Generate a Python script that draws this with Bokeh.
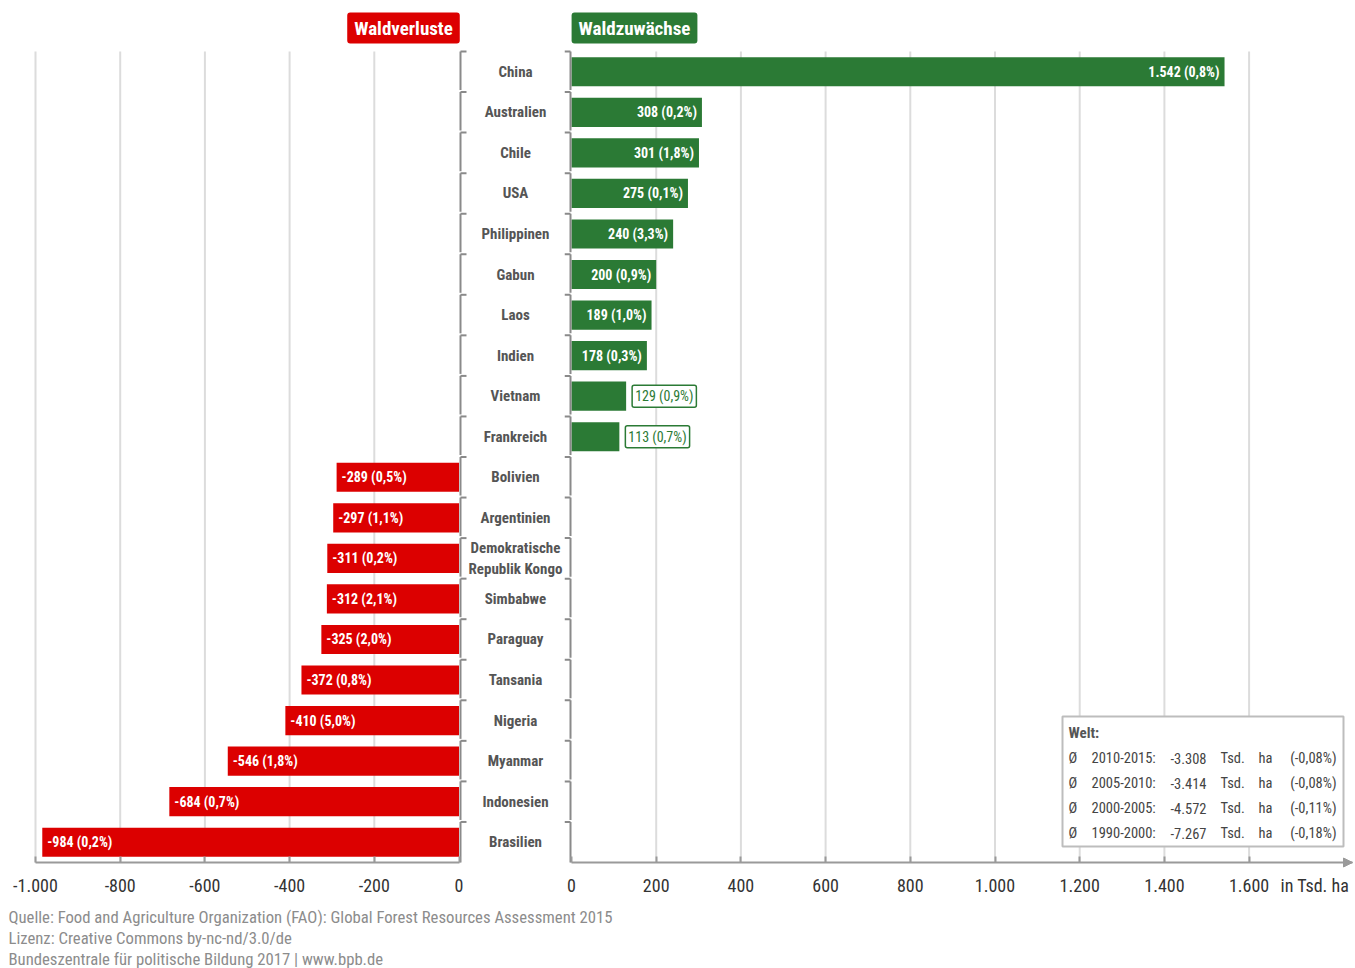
from bokeh.plotting import figure
from bokeh.models import Range1d, Arrow, NormalHead, FixedTicker, LinearAxis
from bokeh.layouts import column, row
from bokeh.embed import file_html
from bokeh.resources import INLINE
from bokeh.core.properties import value

# ---------------- data ----------------
countries = ["China", "Australien", "Chile", "USA", "Philippinen", "Gabun", "Laos",
             "Indien", "Vietnam", "Frankreich", "Bolivien", "Argentinien",
             "Demokratische\nRepublik Kongo", "Simbabwe", "Paraguay", "Tansania",
             "Nigeria", "Myanmar", "Indonesien", "Brasilien"]
change = [1542, 308, 301, 275, 240, 200, 189, 178, 129, 113,
          -289, -297, -311, -312, -325, -372, -410, -546, -684, -984]
share = ["0,8%", "0,2%", "1,8%", "0,1%", "3,3%", "0,9%", "1,0%", "0,3%", "0,9%", "0,7%",
         "0,5%", "1,1%", "0,2%", "2,1%", "2,0%", "0,8%", "5,0%", "1,8%", "0,7%", "0,2%"]

loss_ticks = [-1000, -800, -600, -400, -200, 0]
gain_ticks = [0, 200, 400, 600, 800, 1000, 1200, 1400, 1600]

world_periods = ["2010-2015:", "2005-2010:", "2000-2005:", "1990-2000:"]
world_change = [-3308, -3414, -4572, -7267]
world_share = ["(-0,08%)", "(-0,08%)", "(-0,11%)", "(-0,18%)"]

titles = ["Waldverluste", "Waldzuwächse"]
unit_label = "in Tsd. ha"
footer_lines = ["Quelle: Food and Agriculture Organization (FAO): Global Forest Resources Assessment 2015",
                "Lizenz: Creative Commons by-nc-nd/3.0/de",
                "Bundeszentrale für politische Bildung 2017  |  www.bpb.de"]

# ---------------- styling ----------------
FONT = "'Roboto Condensed', Roboto, sans-serif"
RED = "#dc0000"
GREEN = "#2b7a35"
GRAY_AX = "#9a9a9a"
GRID = "#dcdcdc"
BRACKET = "#8a8a8a"


def de(n):
    return f"{n:,}".replace(",", ".")


S = 0.4235          # px per unit (both panels)
ROWPX = 40.55       # px per category row
TOP_PX = 51         # px of top of first row
H = 900             # height of main figures
N = len(countries)
ypos = [N - 0.5 - i for i in range(N)]

loss_idx = [i for i, v in enumerate(change) if v < 0]
gain_idx = [i for i, v in enumerate(change) if v >= 0]


def ry(py):
    return N - (py - TOP_PX) / ROWPX


def style_axis(a):
    a.axis_line_color = GRAY_AX
    a.axis_line_width = 2
    a.major_tick_line_color = GRAY_AX
    a.major_tick_line_width = 2
    a.major_tick_in = 6
    a.major_tick_out = 0
    a.minor_tick_line_color = None
    a.major_label_standoff = 16
    a.major_label_text_font = FONT
    a.major_label_text_font_size = "18px"
    a.major_label_text_color = "#333333"


def base_fig(width, x_range):
    p = figure(width=width, height=H, x_range=x_range, y_range=Range1d(ry(H), ry(0)),
               output_backend="svg", toolbar_location=None, x_axis_location=None,
               y_axis_location=None, min_border=0)
    p.outline_line_color = None
    p.grid.visible = False
    return p


# ---------------- left panel (losses + labels) ----------------
LW = 564
zero_l = 35 + 1000 * S   # px of 0 on left panel


def lx(px):
    return (px - zero_l) / S


p1 = base_fig(LW, Range1d(lx(0), lx(LW)))
ax = LinearAxis(ticker=FixedTicker(ticks=loss_ticks), bounds=(loss_ticks[0], loss_ticks[-1]),
                fixed_location=0,
                major_label_overrides={t: de(t) for t in loss_ticks})
style_axis(ax)
p1.add_layout(ax, "below")

p1.segment(x0=loss_ticks[:-1], x1=loss_ticks[:-1], y0=0, y1=N,
           line_color=GRID, line_width=2)
p1.hbar(y=[ypos[i] for i in loss_idx], left=[change[i] for i in loss_idx], right=0,
        height=0.72, fill_color=RED, line_color=None)
p1.text(x=[change[i] for i in loss_idx], y=[ypos[i] for i in loss_idx],
        text=[f"{de(change[i])} ({share[i]})" for i in loss_idx],
        x_offset=5, text_align="left", text_baseline="middle", text_color="white",
        text_font=value(FONT), text_font_size="14px", text_font_style="bold")

# country labels
p1.text(x=[lx(515)] * N, y=ypos, text=countries, text_align="center",
        text_baseline="middle", text_color="#555555", text_font=value(FONT),
        text_font_size="15px", text_font_style="bold", text_line_height=1.15)

# left brackets
gap = 2 / ROWPX
vx0, vy0, vx1, vy1 = [], [], [], []
for i in range(N):
    top = N - i
    bot = N - i - 1 + (gap if i < N - 1 else 0)
    vx0 += [lx(460), lx(460)]
    vy0 += [top, top]
    vx1 += [lx(460), lx(466)]
    vy1 += [bot, top]
p1.segment(x0=vx0, y0=vy0, x1=vx1, y1=vy1, line_color=BRACKET, line_width=2)

p1.text(x=[lx(403)], y=[ry(27.5)], text=[titles[0]], text_align="center",
        text_baseline="middle", text_color="white", text_font=value(FONT),
        text_font_size="19px", text_font_style="bold",
        background_fill_color=RED, padding=[7, 4], border_radius=3)

# ---------------- right panel (gains) ----------------
RW = 1355 - LW


def rx(px):
    return (px - 571) / S


p2 = base_fig(RW, Range1d(rx(LW), rx(1355)))
xend = rx(1352)
bx = LinearAxis(ticker=FixedTicker(ticks=gain_ticks), bounds=(0, xend),
                fixed_location=0,
                major_label_overrides={t: de(t) for t in gain_ticks})
style_axis(bx)
p2.add_layout(bx, "below")

p2.segment(x0=gain_ticks[1:], x1=gain_ticks[1:], y0=0, y1=N,
           line_color=GRID, line_width=2)
p2.hbar(y=[ypos[i] for i in gain_idx], left=0, right=[change[i] for i in gain_idx],
        height=0.72, fill_color=GREEN, line_color=None)
inside = [i for i in gain_idx if change[i] >= 150]
outside = [i for i in gain_idx if change[i] < 150]
p2.text(x=[change[i] for i in inside], y=[ypos[i] for i in inside],
        text=[f"{de(change[i])} ({share[i]})" for i in inside],
        x_offset=-5, text_align="right", text_baseline="middle", text_color="white",
        text_font=value(FONT), text_font_size="14px", text_font_style="bold")
p2.text(x=[change[i] for i in outside], y=[ypos[i] for i in outside],
        text=[f"{de(change[i])} ({share[i]})" for i in outside],
        x_offset=6, text_align="left", text_baseline="middle", text_color=GREEN,
        text_font=value(FONT), text_font_size="14px",
        background_fill_color="white", border_line_color=GREEN, border_line_width=1.5,
        padding=3, border_radius=2)

# right brackets
vx0, vy0, vx1, vy1 = [], [], [], []
for i in range(N):
    top = N - i
    bot = N - i - 1 + (gap if i < N - 1 else 0)
    vx0 += [rx(570), rx(570)]
    vy0 += [top, top]
    vx1 += [rx(570), rx(564)]
    vy1 += [bot, top]
p2.segment(x0=vx0, y0=vy0, x1=vx1, y1=vy1, line_color=BRACKET, line_width=2)

p2.text(x=[rx(634)], y=[ry(27.5)], text=[titles[1]], text_align="center",
        text_baseline="middle", text_color="white", text_font=value(FONT),
        text_font_size="19px", text_font_style="bold",
        background_fill_color=GREEN, padding=[7, 4], border_radius=3)

p2.add_layout(Arrow(end=NormalHead(size=9, fill_color=GRAY_AX, line_color=GRAY_AX),
                    line_color=GRAY_AX, line_width=2,
                    x_start=xend - 20, y_start=0, x_end=xend, y_end=0))
p2.text(x=[rx(1280)], y=[ry(885)], text=[unit_label], text_align="left",
        text_baseline="middle", text_color="#333333", text_font=value(FONT),
        text_font_size="18px")

# world box
p2.quad(left=rx(1062), right=rx(1343), top=ry(716), bottom=ry(846),
        fill_color="white", line_color="#bdbdbd", line_width=2)
p2.text(x=[rx(1068)], y=[ry(732)], text=["Welt:"], text_align="left",
        text_baseline="middle", text_color="#555555", text_font=value(FONT),
        text_font_size="15px", text_font_style="bold")
rows_y = [ry(758 + 25 * k) for k in range(len(world_periods))]
common = dict(text_baseline="middle", text_color="#444444", text_font=value(FONT),
              text_font_size="14.5px")
p2.text(x=[rx(1068)] * 4, y=rows_y, text=["Ø"] * 4, text_align="left", **common)
p2.text(x=[rx(1091)] * 4, y=rows_y, text=world_periods, text_align="left", **common)
p2.text(x=[rx(1206)] * 4, y=rows_y, text=[de(v) for v in world_change],
        text_align="right", **common)
p2.text(x=[rx(1220)] * 4, y=rows_y, text=["Tsd."] * 4, text_align="left", **common)
p2.text(x=[rx(1258)] * 4, y=rows_y, text=["ha"] * 4, text_align="left", **common)
p2.text(x=[rx(1336)] * 4, y=rows_y, text=world_share, text_align="right", **common)

# ---------------- footer ----------------
f = figure(width=1355, height=968 - H, x_range=Range1d(0, 1355), y_range=Range1d(968 - H, 0),
           output_backend="svg", toolbar_location=None, x_axis_location=None,
           y_axis_location=None, min_border=0)
f.outline_line_color = None
f.grid.visible = False
f.text(x=[8, 8, 8], y=[17, 38, 59], text=footer_lines, text_align="left",
       text_baseline="middle", text_color="#8c8c8c", text_font=value(FONT),
       text_font_size="16.7px")

layout = column(row(p1, p2, spacing=0), f, spacing=0)
open("out.html", "w").write(file_html(layout, INLINE))
